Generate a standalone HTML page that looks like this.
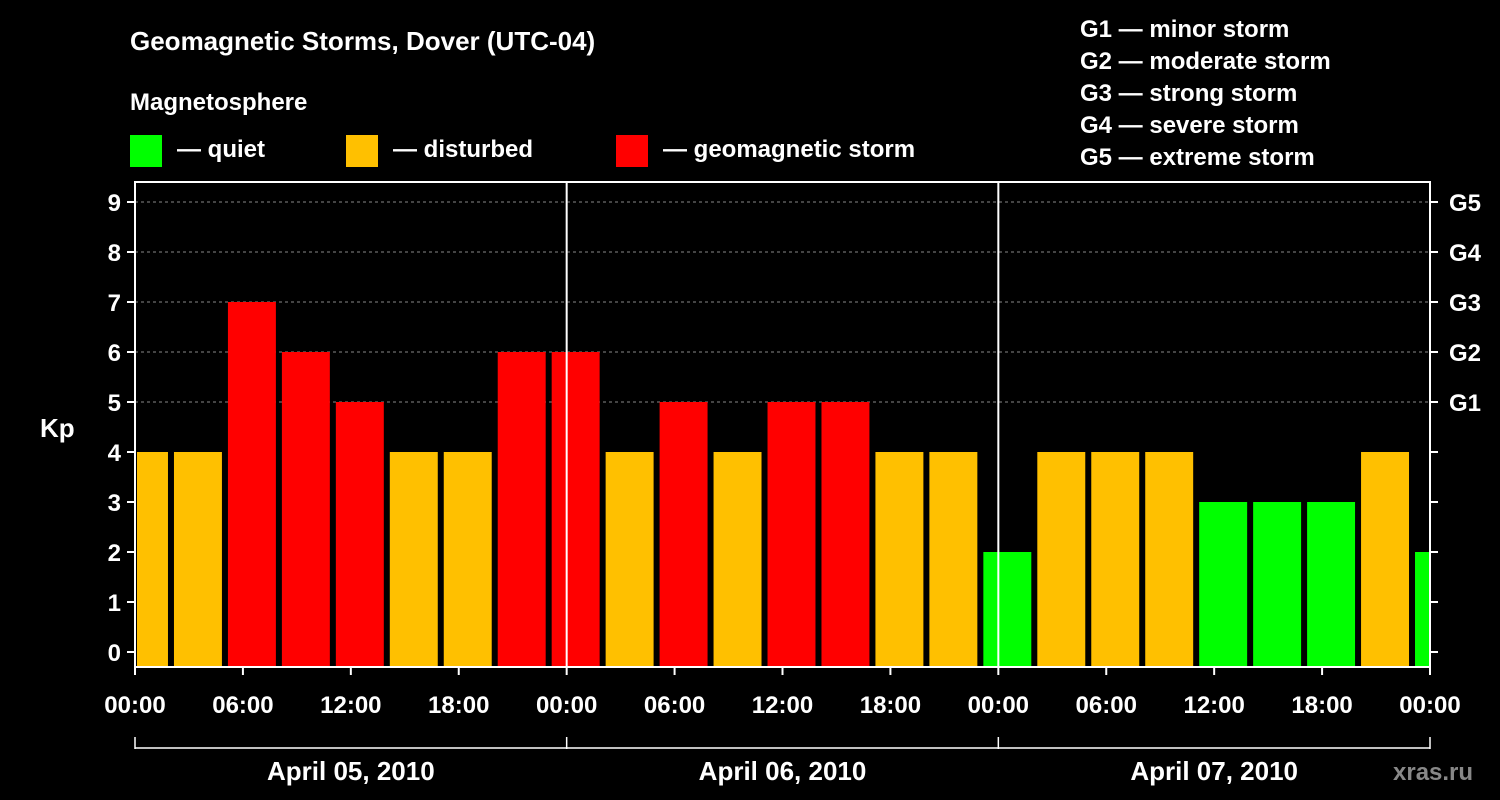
<!DOCTYPE html>
<html><head><meta charset="utf-8">
<style>
html,body{margin:0;padding:0;background:#000;}
svg{display:block;font-family:"Liberation Sans",Arial,sans-serif;font-weight:bold;}
</style></head><body>
<svg id="c" width="1500" height="800" viewBox="0 0 1500 800" xmlns="http://www.w3.org/2000/svg">
<text x="130" y="50" fill="#fff" font-size="26">Geomagnetic Storms, Dover (UTC-04)</text>
<text x="130" y="110" fill="#fff" font-size="24">Magnetosphere</text>
<g><rect x="130" y="135" width="32" height="32" fill="#00ff00"/><text x="177" y="157" fill="#fff" font-size="24">— quiet</text></g>
<g><rect x="346" y="135" width="32" height="32" fill="#ffc000"/><text x="393" y="157" fill="#fff" font-size="24">— disturbed</text></g>
<g><rect x="616" y="135" width="32" height="32" fill="#ff0000"/><text x="663" y="157" fill="#fff" font-size="24">— geomagnetic storm</text></g>
<g fill="#fff" font-size="24">
<text x="1080" y="37">G1 — minor storm</text>
<text x="1080" y="69">G2 — moderate storm</text>
<text x="1080" y="101">G3 — strong storm</text>
<text x="1080" y="133">G4 — severe storm</text>
<text x="1080" y="165">G5 — extreme storm</text>
</g>
<text x="40" y="437" fill="#fff" font-size="26">Kp</text>
<text x="1393" y="780" fill="#888" font-size="24">xras.ru</text>
<g id="plot"></g>
</svg>
<script>
const kpValues=[4,4,7,6,5,4,4,6,6,4,5,4,5,5,4,4,2,4,4,4,3,3,3,4,2];
const kpTicks=[0,1,2,3,4,5,6,7,8,9];
const gLabels=["","","","","","G1","G2","G3","G4","G5"];
const hourLabels=["00:00","06:00","12:00","18:00","00:00","06:00","12:00","18:00","00:00","06:00","12:00","18:00","00:00"];
const dayLabels=["April 05, 2010","April 06, 2010","April 07, 2010"];
const startHourOffset=-1; // first bar begins 1h before plot start (UTC shift)

const X0=135,X1=1430,YT=182,YB=667;
const pxPerHour=(X1-X0)/72;
const x=h=>X0+h*pxPerHour;
const y=v=>652-v*50;
const NS="http://www.w3.org/2000/svg";
const g=document.getElementById('plot');
function mk(t,a,p){const e=document.createElementNS(NS,t);for(const k in a)e.setAttribute(k,a[k]);(p||g).appendChild(e);return e;}

// grid
kpTicks.forEach(v=>{
  if(v>=5){const l=mk('line',{x1:X0,x2:X1,y1:y(v),y2:y(v),stroke:'#888','stroke-dasharray':'3,3'});
  
  }
});
// bars
kpValues.forEach((v,i)=>{
  let a=x(startHourOffset+i*3)+3,b=x(startHourOffset+(i+1)*3)-3;
  a=Math.max(a,X0+2);b=Math.min(b,X1);
  if(b<=a)return;
  const col=v>=5?'#ff0000':(v>=4?'#ffc000':'#00ff00');
  const r=mk('rect',{x:a,y:y(v),width:b-a,height:YB-y(v),fill:col});
  
  
});
// frame
const fr=mk('rect',{x:X0,y:YT,width:X1-X0,height:YB-YT,fill:'none',stroke:'#fff','stroke-width':2});


[1,2].forEach(d=>{const l=mk('line',{x1:x(d*24),x2:x(d*24),y1:YT,y2:YB,stroke:'#fff','stroke-width':2});

});
// y ticks & labels
kpTicks.forEach(v=>{
  mk('line',{x1:X0-8,x2:X0,y1:y(v),y2:y(v),stroke:'#fff','stroke-width':2});
  mk('line',{x1:X1,x2:X1+8,y1:y(v),y2:y(v),stroke:'#fff','stroke-width':2});
  const t=mk('text',{x:X0-14,y:y(v)+9,fill:'#fff','font-size':24,'text-anchor':'end'});t.textContent=v;
  
  
  if(gLabels[v]){const s=mk('text',{x:1449,y:y(v)+9,fill:'#fff','font-size':24});s.textContent=gLabels[v];
  
  }
});
// x ticks
hourLabels.forEach((lb,i)=>{
  const xx=x(i*6);
  mk('line',{x1:xx,x2:xx,y1:YB,y2:YB+8,stroke:'#fff','stroke-width':2});
  const t=mk('text',{x:xx,y:713,fill:'#fff','font-size':24,'text-anchor':'middle'});t.textContent=lb;
  
  
});
// day bracket
mk('line',{x1:X0,x2:X1,y1:748,y2:748,stroke:'#fff','stroke-width':1.5});
[0,1,2,3].forEach(d=>mk('line',{x1:x(d*24),x2:x(d*24),y1:737,y2:749,stroke:'#fff','stroke-width':1.5}));
dayLabels.forEach((lb,d)=>{
  const t=mk('text',{x:x(d*24+12),y:780,fill:'#fff','font-size':26,'text-anchor':'middle'});t.textContent=lb;
  
  
});
</script>
</body></html>
